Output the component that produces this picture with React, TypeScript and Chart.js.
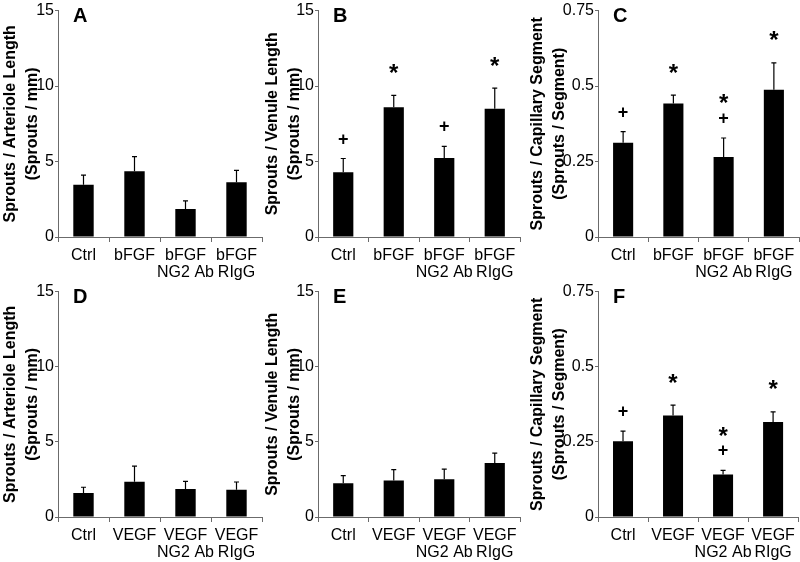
import React, { useEffect, useRef } from "react";
import { Chart, registerables } from "chart.js";

Chart.register(...registerables);

// ---------- data ----------
const bfgfCategories: (string | string[])[] = ["Ctrl", "bFGF", ["bFGF", "NG2 Ab"], ["bFGF", "RIgG"]];
const vegfCategories: (string | string[])[] = ["Ctrl", "VEGF", ["VEGF", "NG2 Ab"], ["VEGF", "RIgG"]];

const lengthTicks = [0, 5, 10, 15];
const segmentTicks = [0, 0.25, 0.5, 0.75];

const arterioleBfgfMeans = [3.46, 4.36, 1.86, 3.63];
const arterioleBfgfSem = [0.64, 0.96, 0.53, 0.79];
const arterioleBfgfMarks: string[][] = [[], [], [], []];

const venuleBfgfMeans = [4.29, 8.6, 5.24, 8.5];
const venuleBfgfSem = [0.91, 0.78, 0.76, 1.37];
const venuleBfgfMarks: string[][] = [["+"], ["*"], ["+"], ["*"]];

const capillaryBfgfMeans = [0.312, 0.442, 0.265, 0.488];
const capillaryBfgfSem = [0.037, 0.028, 0.063, 0.089];
const capillaryBfgfMarks: string[][] = [["+"], ["*"], ["*", "+"], ["*"]];

const arterioleVegfMeans = [1.59, 2.35, 1.87, 1.81];
const arterioleVegfSem = [0.39, 1.03, 0.5, 0.52];
const arterioleVegfMarks: string[][] = [[], [], [], []];

const venuleVegfMeans = [2.24, 2.43, 2.52, 3.6];
const venuleVegfSem = [0.52, 0.72, 0.67, 0.65];
const venuleVegfMarks: string[][] = [[], [], [], []];

const capillaryVegfMeans = [0.252, 0.338, 0.141, 0.316];
const capillaryVegfSem = [0.034, 0.034, 0.014, 0.034];
const capillaryVegfMarks: string[][] = [["+"], ["*"], ["*", "+"], ["*"]];

const arterioleTitle = ["Sprouts / Arteriole Length", "(Sprouts / mm)"];
const venuleTitle = ["Sprouts / Venule Length", "(Sprouts / mm)"];
const capillaryTitle = ["Sprouts / Capillary Segment", "(Sprouts / Segment)"];

// ---------- style ----------
const FONT = "'Liberation Sans', Arial, Helvetica, sans-serif";
const AXIS = "#6b6b6b";

type Panel = {
  letter: string;
  labels: (string | string[])[];
  means: number[];
  sem: number[];
  marks: string[][];
  ticks: number[];
  title: string[];
  left: number;
  top: number;
  width: number;
  height: number;
  yWidth: number;
  padRight: number;
  padTop: number;
  xHeight: number;
};

const colA = { left: 0, width: 265, yWidth: 58, padRight: 3 };
const colB = { left: 262, width: 265, yWidth: 56, padRight: 7 };
const colC = { left: 527, width: 273, yWidth: 71, padRight: 1 };
const row1 = { top: 0, height: 281, padTop: 5, xHeight: 44 };
const row2 = { top: 281, height: 281, padTop: 7, xHeight: 45 };

const panels: Panel[] = [
  { letter: "A", labels: bfgfCategories, means: arterioleBfgfMeans, sem: arterioleBfgfSem, marks: arterioleBfgfMarks, ticks: lengthTicks, title: arterioleTitle, ...colA, ...row1 },
  { letter: "B", labels: bfgfCategories, means: venuleBfgfMeans, sem: venuleBfgfSem, marks: venuleBfgfMarks, ticks: lengthTicks, title: venuleTitle, ...colB, ...row1 },
  { letter: "C", labels: bfgfCategories, means: capillaryBfgfMeans, sem: capillaryBfgfSem, marks: capillaryBfgfMarks, ticks: segmentTicks, title: capillaryTitle, ...colC, ...row1 },
  { letter: "D", labels: vegfCategories, means: arterioleVegfMeans, sem: arterioleVegfSem, marks: arterioleVegfMarks, ticks: lengthTicks, title: arterioleTitle, ...colA, ...row2 },
  { letter: "E", labels: vegfCategories, means: venuleVegfMeans, sem: venuleVegfSem, marks: venuleVegfMarks, ticks: lengthTicks, title: venuleTitle, ...colB, ...row2 },
  { letter: "F", labels: vegfCategories, means: capillaryVegfMeans, sem: capillaryVegfSem, marks: capillaryVegfMarks, ticks: segmentTicks, title: capillaryTitle, ...colC, ...row2 },
];

const overlayPlugin = {
  id: "overlay",
  afterDatasetsDraw(chart: any, _args: any, opts: any) {
    const { ctx, chartArea } = chart;
    const meta = chart.getDatasetMeta(0);
    const ys = chart.scales.y;
    const values: number[] = chart.data.datasets[0].data;
    const sem: number[] = opts.sem;
    const marks: string[][] = opts.marks;
    ctx.save();
    ctx.strokeStyle = "#000";
    ctx.lineWidth = 1.2;
    meta.data.forEach((bar: any, i: number) => {
      const x = bar.x;
      const yErr = ys.getPixelForValue(values[i] + sem[i]);
      ctx.beginPath();
      ctx.moveTo(x, bar.y);
      ctx.lineTo(x, yErr);
      ctx.moveTo(x - 2.5, yErr);
      ctx.lineTo(x + 2.5, yErr);
      ctx.stroke();

      const m = marks[i] || [];
      if (m.length) {
        let center = yErr - (m[m.length - 1] === "*" ? 27 : 20);
        for (let k = m.length - 1; k >= 0; k--) {
          const s = m[k];
          ctx.font = s === "*" ? `bold 24px ${FONT}` : `bold 18px ${FONT}`;
          ctx.fillStyle = "#000";
          ctx.textAlign = "center";
          ctx.textBaseline = "alphabetic";
          const tm = ctx.measureText(s);
          const base = center + (tm.actualBoundingBoxAscent - tm.actualBoundingBoxDescent) / 2;
          ctx.fillText(s, x, base);
          center -= 19;
        }
      }
    });
    ctx.font = `bold 20px ${FONT}`;
    ctx.fillStyle = "#000";
    ctx.textAlign = "left";
    ctx.textBaseline = "top";
    ctx.fillText(opts.letter, chartArea.left + 15, chartArea.top - 4);
    ctx.restore();
  },
};

function PanelChart({ p }: { p: Panel }) {
  const ref = useRef<HTMLCanvasElement | null>(null);
  useEffect(() => {
    if (!ref.current) return;
    const chart = new Chart(ref.current, {
      type: "bar",
      data: {
        labels: p.labels as any,
        datasets: [
          {
            data: p.means,
            backgroundColor: "#000",
            borderWidth: 0,
            barPercentage: 0.4,
            categoryPercentage: 1,
          },
        ],
      },
      plugins: [overlayPlugin as any],
      options: {
        responsive: false,
        animation: false,
        devicePixelRatio: 1,
        layout: { autoPadding: false, padding: { top: p.padTop, right: p.padRight, left: 0, bottom: 0 } },
        plugins: {
          legend: { display: false },
          tooltip: { enabled: false },
          overlay: { sem: p.sem, marks: p.marks, letter: p.letter },
        } as any,
        scales: {
          x: {
            type: "category",
            grid: { display: true, drawOnChartArea: false, drawTicks: true, tickLength: 5, color: AXIS, lineWidth: 1, offset: true },
            border: { display: true, color: AXIS, width: 1 },
            ticks: { color: "#000", font: { family: FONT, size: 16, lineHeight: 1.05 }, padding: 5, maxRotation: 0, autoSkip: false },
            afterFit: (s: any) => {
              s.height = p.xHeight;
            },
          },
          y: {
            min: p.ticks[0],
            max: p.ticks[p.ticks.length - 1],
            afterBuildTicks: (s: any) => {
              s.ticks = p.ticks.map((v) => ({ value: v }));
            },
            ticks: {
              color: "#000",
              font: { family: FONT, size: 16 },
              padding: 1,
              callback: (v: any) => String(Math.round(Number(v) * 100) / 100),
            },
            grid: { display: true, drawOnChartArea: false, drawTicks: true, tickLength: 3, color: AXIS },
            border: { display: true, color: AXIS, width: 1 },
            title: {
              display: true,
              text: p.title,
              color: "#000",
              font: { family: FONT, size: 16, weight: "bold", lineHeight: 1.35 },
              padding: 0,
            },
            afterFit: (s: any) => {
              s.width = p.yWidth;
            },
          },
        },
      } as any,
    });
    return () => chart.destroy();
  }, [p]);
  return (
    <canvas
      ref={ref}
      width={p.width}
      height={p.height}
      style={{ position: "absolute", left: p.left, top: p.top, width: p.width, height: p.height, display: "block" }}
    />
  );
}

export default function App() {
  return (
    <div style={{ position: "absolute", left: 0, top: 0, width: 800, height: 562, background: "#fff", overflow: "hidden" }}>
      {panels.map((p) => (
        <PanelChart key={p.letter} p={p} />
      ))}
    </div>
  );
}
